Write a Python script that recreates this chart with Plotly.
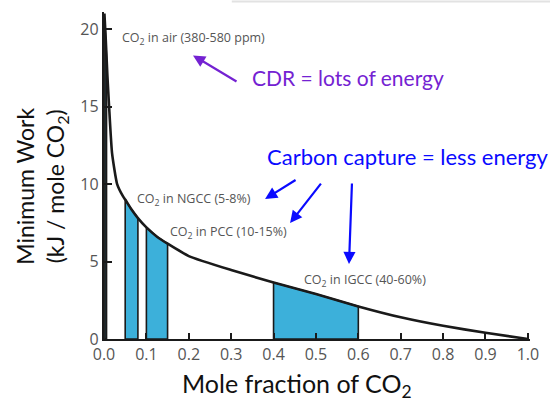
import plotly.graph_objects as go

# Minimum separation work vs CO2 mole fraction
mole_fraction = [0.001, 0.004, 0.008, 0.012, 0.019, 0.031, 0.045, 0.05, 0.065, 0.08,
                 0.1, 0.125, 0.15, 0.2, 0.3, 0.4, 0.5, 0.6, 0.7, 0.8, 0.9, 1.0]
min_work = [21.0, 19.4, 17.0, 15.0, 12.0, 10.0, 9.2, 9.0, 8.35, 7.8,
            7.2, 6.6, 6.15, 5.35, 4.45, 3.65, 2.9, 2.1, 1.4, 0.85, 0.4, 0.0]

# Source concentration ranges (mole fraction)
source_names = ["air", "NGCC", "PCC", "IGCC"]
source_ranges = [(0.002, 0.006), (0.05, 0.08), (0.1, 0.15), (0.4, 0.6)]
source_labels = ["CO<sub>2</sub> in air (380-580 ppm)",
                 "CO<sub>2</sub> in NGCC (5-8%)",
                 "CO<sub>2</sub> in PCC (10-15%)",
                 "CO<sub>2</sub> in IGCC (40-60%)"]
label_anchor_x = [0.038, 0.073, 0.151, 0.467]
label_anchor_y = [19.4, 9.0, 6.9, 3.8]

x_ticks = [0.0, 0.1, 0.2, 0.3, 0.4, 0.5, 0.6, 0.7, 0.8, 0.9, 1.0]
y_ticks = [0, 5, 10, 15, 20]

FILL = "#3cb0da"
PURPLE = "#7422d2"
BLUE = "#0a0aff"
GRAY = "#555555"
FONT = "Lato"


def interp(x):
    for i in range(len(mole_fraction) - 1):
        x0, x1 = mole_fraction[i], mole_fraction[i + 1]
        if x0 <= x <= x1:
            t = (x - x0) / (x1 - x0)
            return min_work[i] + t * (min_work[i + 1] - min_work[i])
    return min_work[-1]


fig = go.Figure()

# Shaded regions under the curve for each source range
for (lo, hi) in source_ranges:
    inner = [x for x in mole_fraction if lo < x < hi]
    xs = [lo, lo] + inner + [hi, hi, lo]
    ys = [0, interp(lo)] + [interp(x) for x in inner] + [interp(hi), 0, 0]
    fig.add_trace(go.Scatter(
        x=xs, y=ys, mode="lines", fill="toself", fillcolor=FILL,
        line=dict(color="#1a1a1a", width=1.6), hoverinfo="skip",
        showlegend=False))

# Minimum work curve
fig.add_trace(go.Scatter(
    x=mole_fraction, y=min_work, mode="lines",
    line=dict(color="#1a1a1a", width=2.6, shape="spline", smoothing=0.5),
    showlegend=False))

annotations = []
for text, ax_, ay_ in zip(source_labels, label_anchor_x, label_anchor_y):
    annotations.append(dict(
        x=ax_, y=ay_, xref="x", yref="y", text=text, showarrow=False,
        xanchor="left", yanchor="middle",
        font=dict(family="Open Sans", size=12.5, color=GRAY)))

annotations += [
    dict(x=0.344, y=16.9, xref="x", yref="y", text="CDR = lots of energy",
         showarrow=False, xanchor="left", yanchor="middle",
         font=dict(family=FONT, size=21, color=PURPLE)),
    dict(x=0.38, y=11.8, xref="x", yref="y", text="Carbon capture = less energy",
         showarrow=False, xanchor="left", yanchor="middle",
         font=dict(family=FONT, size=22, color=BLUE)),
    # arrows
    dict(x=0.21, y=18.3, xref="x", yref="y", ax=45, ay=27, showarrow=True,
         arrowhead=2, arrowsize=1.1, arrowwidth=2.2, arrowcolor=PURPLE, text=""),
    dict(x=0.38, y=9.03, xref="x", yref="y", ax=32, ay=-20, showarrow=True,
         arrowhead=2, arrowsize=1.1, arrowwidth=2.2, arrowcolor=BLUE, text=""),
    dict(x=0.439, y=7.48, xref="x", yref="y", ax=32, ay=-41, showarrow=True,
         arrowhead=2, arrowsize=1.1, arrowwidth=2.2, arrowcolor=BLUE, text=""),
    dict(x=0.578, y=4.84, xref="x", yref="y", ax=3, ay=-82, showarrow=True,
         arrowhead=2, arrowsize=1.1, arrowwidth=2.2, arrowcolor=BLUE, text=""),
    # axis titles
    dict(x=-0.146, y=0.468, xref="paper", yref="paper",
         text="Minimum Work<br>(kJ / mole CO<sub>2</sub>)",
         showarrow=False, textangle=-90, xanchor="center", yanchor="middle",
         font=dict(family=FONT, size=23, color="#111111")),
    dict(x=0.454, y=-0.141, xref="paper", yref="paper",
         text="Mole fraction of CO<sub>2</sub>",
         showarrow=False, xanchor="center", yanchor="middle",
         font=dict(family=FONT, size=25, color="#111111")),
]

fig.update_layout(
    width=550, height=402,
    margin=dict(l=104, r=20, t=12, b=63),
    paper_bgcolor="white", plot_bgcolor="white",
    annotations=annotations,
    shapes=[dict(type="line", xref="paper", yref="paper", x0=0.3, x1=1.1,
                 y0=1.032, y1=1.032, line=dict(color="#e2e2e2", width=2))],
    xaxis=dict(range=[0, 1.005], tickvals=x_ticks,
               ticktext=[f"{v:.1f}" for v in x_ticks],
               showgrid=False, zeroline=False, showline=True,
               linecolor="#1a1a1a", linewidth=2.4,
               ticks="inside", ticklen=6, tickwidth=2, tickcolor="#1a1a1a",
               tickfont=dict(family="Open Sans", size=16, color=GRAY)),
    yaxis=dict(range=[0, 21.1], tickvals=y_ticks,
               showgrid=False, zeroline=False, showline=True,
               linecolor="#1a1a1a", linewidth=2.4,
               ticks="inside", ticklen=8, tickwidth=2, tickcolor="#1a1a1a",
               tickfont=dict(family="Open Sans", size=16, color=GRAY)),
)

fig.write_html("out.html")
